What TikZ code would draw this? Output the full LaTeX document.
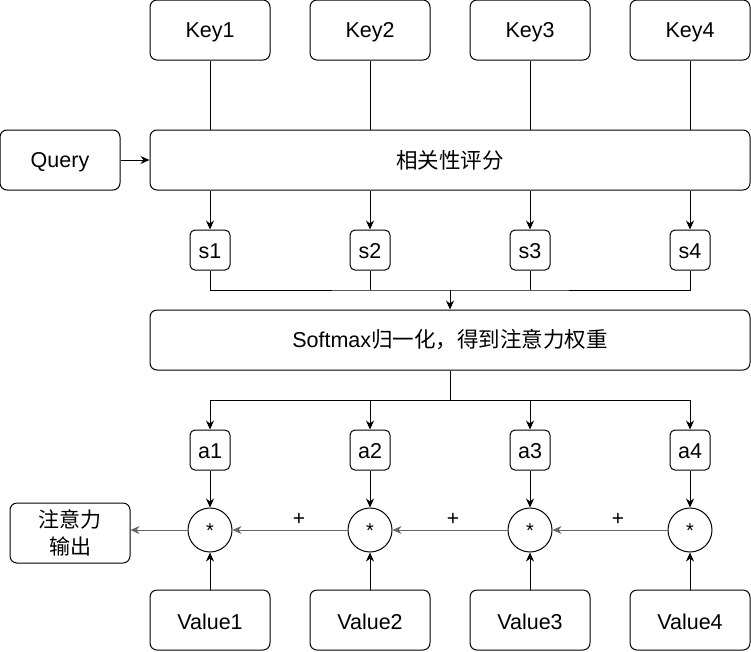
\documentclass[tikz,border=0pt]{standalone}
\usepackage{fontspec}
\setmainfont{Liberation Sans}
\newfontfamily\cjk{Noto Sans CJK SC}
\usetikzlibrary{arrows.meta,calc}
\begin{document}
\begin{tikzpicture}[x=1pt,y=-1pt,
  box/.style={draw,rounded corners=7pt,line width=1pt,minimum width=120pt,minimum height=60pt,inner sep=0pt,font=\fontsize{21.5}{26}\selectfont},
  wide/.style={box,minimum width=600pt},
  small/.style={draw,rounded corners=5pt,line width=1pt,minimum width=40pt,minimum height=40pt,inner sep=0pt,font=\fontsize{21.5}{26}\selectfont},
  mul/.style={draw,circle,line width=1pt,minimum size=44pt,inner sep=0pt,font=\fontsize{20}{22}\selectfont},
  ln/.style={line width=1pt},
  arr/.style={ln,-{Stealth[length=9pt,width=8pt]}},
  harr/.style={arr,draw=black!60},
  plus/.style={font=\fontsize{21}{24}\selectfont},
  lbl/.style={font=\fontsize{21.5}{26}\selectfont,inner sep=0pt}
]
\useasboundingbox (0,0) rectangle (751,651);
\foreach \i/\x in {1/210,2/370,3/530,4/690}{
  \node[box] (k\i) at (\x,30) {};
  \node[lbl] (k\i t) at ($(k\i)+(0,2)$) {Key\i};
  \node[small] (s\i) at (\x,250) {};
  \node[lbl] (s\i t) at ($(s\i)+(0,1)$) {s\i};
  \node[small] (a\i) at (\x,450) {};
  \node[lbl] (a\i t) at ($(a\i)+(0,1)$) {a\i};
  \node[mul] (c\i) at (\x,530) {};
  \node[font=\fontsize{20}{22}\selectfont,inner sep=0pt] (c\i t) at ($(c\i)+(0,1)$) {*};
  \node[box] (v\i) at (\x,620) {};
  \node[lbl] (v\i t) at ($(v\i)+(0,2)$) {Value\i};
}
\node[box] (q) at (60,160) {};
\node[lbl] (qt) at ($(q)+(0,2)$) {Query};
\node[wide] (score) at (450,160) {\cjk 相关性评分};
\node[wide] (soft) at (450,340) {Softmax{\cjk 归一化，得到注意力权重}};
\node[box,align=center,font=\fontsize{21}{27}\selectfont\cjk] (out) at (70,533) {注意力\\输出};
\coordinate (bs) at (450,290);
\coordinate (ba) at (450,400);
\foreach \i in {1,...,4}{
  \draw[ln] (k\i.south) -- (k\i.south |- score.north);
  \draw[arr] (score.south -| s\i) -- (s\i.north);
  \draw[arr] (a\i.south) -- (c\i.north);
  \draw[arr] (v\i.north) -- (c\i.south);
}
\draw[arr] (q.east) -- (score.west);
\draw[ln] (s1.south) |- (bs) -| (s4.south);
\draw[ln] (s2.south) -- (s2.south |- bs);
\draw[ln] (s3.south) -- (s3.south |- bs);
\draw[arr] (bs) -- (soft.north);
\draw[ln] (soft.south) -- (ba);
\draw[arr] (ba) -| (a1.north);
\draw[arr] (ba) -| (a4.north);
\draw[arr] (a2.north |- ba) -- (a2.north);
\draw[arr] (a3.north |- ba) -- (a3.north);
\draw[harr] (c4.west) -- node[plus,above=1pt,xshift=8pt] (p3) {+} (c3.east);
\draw[harr] (c3.west) -- node[plus,above=1pt,xshift=3pt] (p2) {+} (c2.east);
\draw[harr] (c2.west) -- node[plus,above=1pt,xshift=9pt] (p1) {+} (c1.east);
\draw[harr] (c1.west) -- (c1.west -| out.east);
\end{tikzpicture}
\end{document}
